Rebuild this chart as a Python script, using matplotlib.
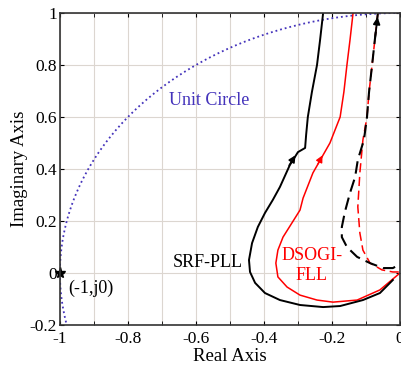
import numpy as np
import matplotlib
matplotlib.use("Agg")
import matplotlib.pyplot as plt
from matplotlib.ticker import MultipleLocator

plt.rcParams['font.family'] = ['Liberation Serif', 'DejaVu Serif']
plt.rcParams['axes.unicode_minus'] = False

# Nyquist traces
srf_re = [-0.226, -0.235, -0.244, -0.259, -0.271, -0.276, -0.279, -0.300, -0.324,
          -0.353, -0.374, -0.397, -0.418, -0.435, -0.444, -0.441, -0.426, -0.397,
          -0.353, -0.294, -0.226, -0.176, -0.109, -0.059, -0.021]
srf_im = [1.000, 0.896, 0.800, 0.696, 0.600, 0.531, 0.481, 0.465, 0.415,
          0.331, 0.281, 0.231, 0.177, 0.115, 0.050, 0.004, -0.038, -0.077,
          -0.104, -0.123, -0.131, -0.127, -0.104, -0.077, -0.027]

dsogi_re = [-0.138, -0.147, -0.156, -0.165, -0.176, -0.191, -0.206, -0.226, -0.256,
            -0.285, -0.294, -0.318, -0.344, -0.359, -0.365, -0.359, -0.332, -0.294,
            -0.244, -0.197, -0.126, -0.059, 0.000]
dsogi_im = [1.000, 0.896, 0.800, 0.696, 0.600, 0.550, 0.500, 0.454, 0.385,
            0.288, 0.242, 0.192, 0.138, 0.088, 0.038, -0.015, -0.054, -0.085,
            -0.104, -0.112, -0.104, -0.065, 0.000]

srf_d_re = [-0.065, -0.074, -0.082, -0.091, -0.097, -0.106, -0.124, -0.132, -0.147,
            -0.162, -0.171, -0.171, -0.156, -0.126, -0.088, -0.050, -0.021, 0.006]
srf_d_im = [1.000, 0.896, 0.800, 0.696, 0.600, 0.512, 0.435, 0.369, 0.308,
            0.235, 0.177, 0.138, 0.100, 0.062, 0.038, 0.019, 0.019, 0.038]

dsogi_d_re = [-0.065, -0.074, -0.082, -0.091, -0.097, -0.109, -0.118, -0.124, -0.118,
              -0.109, -0.088, -0.053, -0.021, 0.006]
dsogi_d_im = [1.000, 0.896, 0.800, 0.696, 0.600, 0.512, 0.385, 0.254, 0.154,
              0.088, 0.038, 0.012, 0.004, 0.004]

fig = plt.figure(figsize=(4.02, 3.67), dpi=100)
ax = fig.add_axes([0.149, 0.1144, 0.846, 0.8502])

# unit circle
th = np.linspace(np.pi / 2, 1.07 * np.pi, 300)
ax.plot(np.cos(th), np.sin(th), ':', color='#4433bb', lw=1.3)

ax.plot(dsogi_d_re, dsogi_d_im, color='red', lw=1.1, dashes=(6, 3))
ax.plot(srf_d_re, srf_d_im, color='black', lw=1.5, dashes=(6, 3))
ax.plot(dsogi_re, dsogi_im, color='red', lw=1.1)
ax.plot(srf_re, srf_im, color='black', lw=1.4)

# direction arrows
ax.annotate('', xy=(-0.303, 0.462), xytext=(-0.33, 0.405),
            arrowprops=dict(arrowstyle='-|>', color='black', lw=1.2, mutation_scale=10))
ax.annotate('', xy=(-0.224, 0.462), xytext=(-0.245, 0.41),
            arrowprops=dict(arrowstyle='-|>', color='red', lw=1.0, mutation_scale=10))
ax.annotate('', xy=(-0.065, 0.995), xytext=(-0.074, 0.896),
            arrowprops=dict(arrowstyle='-|>', color='black', lw=1.3, mutation_scale=10))

ax.plot([-1], [0], marker='*', color='black', ms=8, clip_on=False)

ax.text(-0.56, 0.665, 'Unit Circle', color='#4433bb', fontsize=13, ha='center', va='center')
ax.text(-0.565, 0.04, 'SRF-PLL', color='black', fontsize=13, ha='center', va='center')
ax.text(-0.259, 0.03, 'DSOGI-\nFLL', color='red', fontsize=13, ha='center', va='center',
        linespacing=1.2)
ax.text(-0.975, -0.06, '(-1,j0)', color='black', fontsize=13, ha='left', va='center')

ax.set_xlim(-1, 0)
ax.set_ylim(-0.2, 1)
ax.xaxis.set_minor_locator(MultipleLocator(0.1))
ax.set_xticks([-1, -0.8, -0.6, -0.4, -0.2, 0])
ax.set_xticklabels(['-1', '-0.8', '-0.6', '-0.4', '-0.2', '0'])
ax.set_yticks([-0.2, 0, 0.2, 0.4, 0.6, 0.8, 1])
ax.set_yticklabels(['-0.2', '0', '0.2', '0.4', '0.6', '0.8', '1'])
ax.grid(True, which='both', color='#dcd6d0', lw=0.8)
ax.set_axisbelow(True)
ax.tick_params(which='both', direction='in', top=True, right=True, labelsize=12.5,
               length=3)
ax.tick_params(axis='x', pad=4)
ax.tick_params(axis='y', pad=2)
for s in ax.spines.values():
    s.set_linewidth(1.2)
    s.set_color('#333333')

ax.set_xlabel('Real Axis', fontsize=13.5, labelpad=1)
ax.set_ylabel('Imaginary Axis', fontsize=13.5, labelpad=1)

fig.savefig('out.png', dpi=100)
